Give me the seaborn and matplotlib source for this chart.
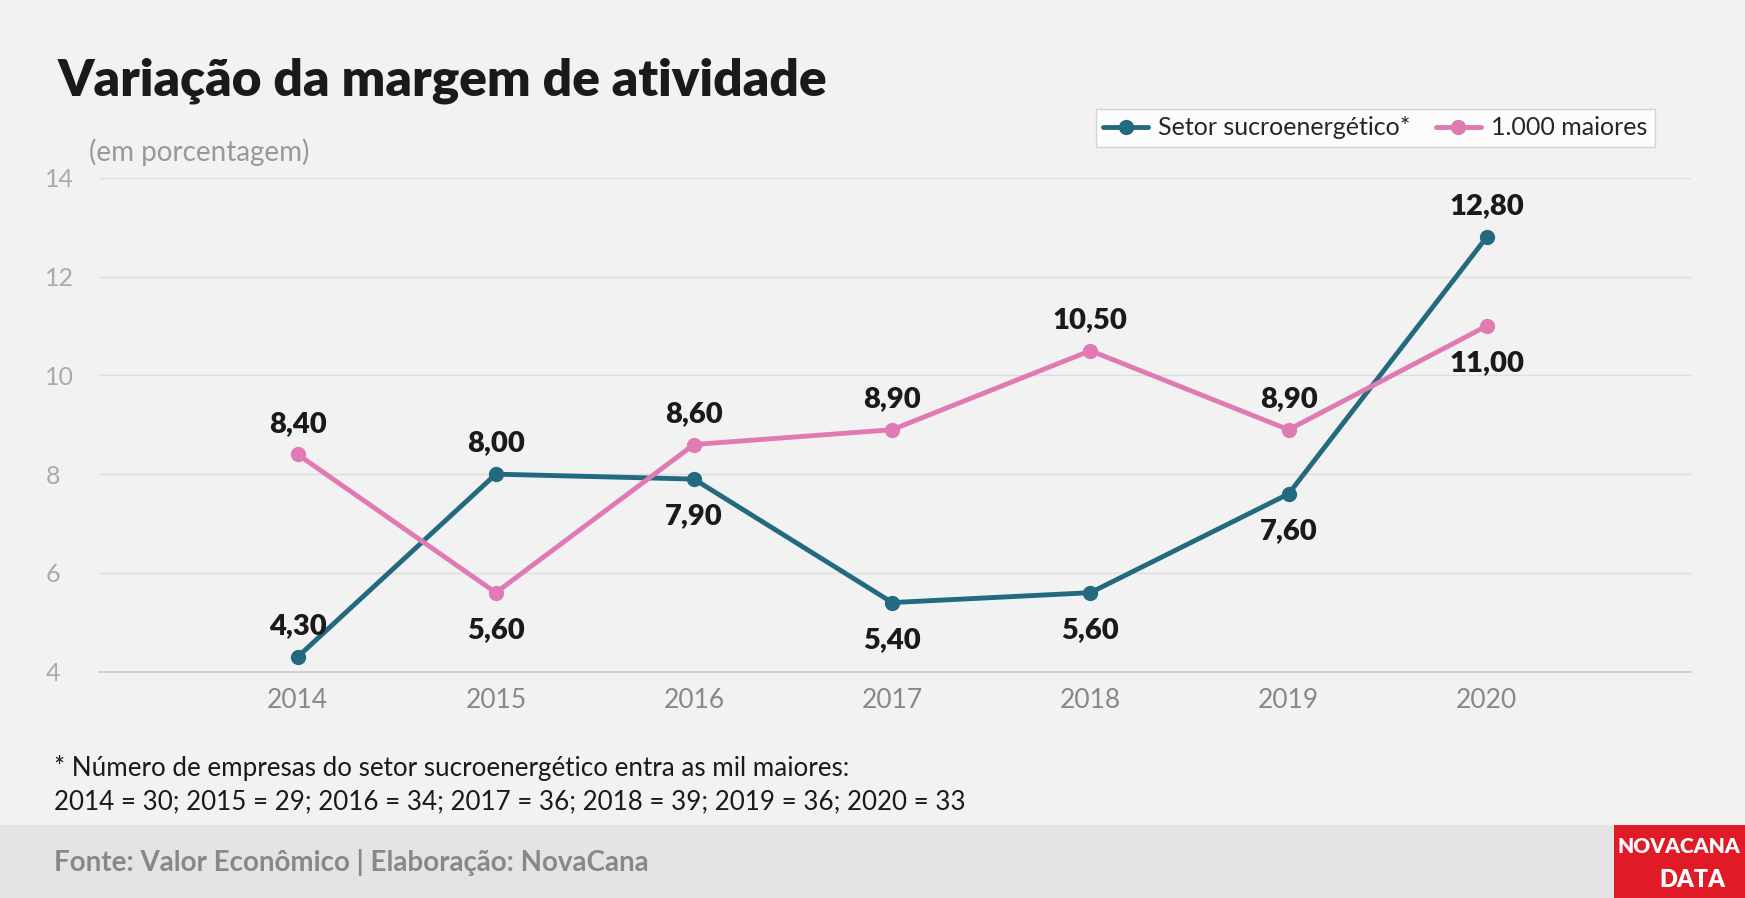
import matplotlib
matplotlib.use("Agg")
import matplotlib.pyplot as plt
import seaborn as sns
import pandas as pd
from matplotlib.patches import Rectangle

years = [2014, 2015, 2016, 2017, 2018, 2019, 2020]
setor = [4.3, 8.0, 7.9, 5.4, 5.6, 7.6, 12.8]
maiores = [8.4, 5.6, 8.6, 8.9, 10.5, 8.9, 11.0]
series_names = ["Setor sucroenergético*", "1.000 maiores"]
colors = ["#236a80", "#e07ab3"]
# label offset direction: +1 above, -1 below
setor_pos = [1, 1, -1, -1, -1, -1, 1]
maiores_pos = [1, -1, 1, 1, 1, 1, -1]

sns.set_theme(style="white")
plt.rcParams['font.family'] = ['Lato', 'DejaVu Sans']

df = pd.DataFrame({"ano": years * 2, "valor": setor + maiores,
                   "serie": [series_names[0]] * 7 + [series_names[1]] * 7})

fig = plt.figure(figsize=(17.45, 8.98), dpi=100, facecolor="#f2f2f2")
ax = fig.add_axes([0.057, 0.252, 0.912, 0.55])
ax.set_facecolor("#f2f2f2")
sns.lineplot(data=df, x="ano", y="valor", hue="serie", palette=colors,
             marker="o", markersize=11, markeredgewidth=0, linewidth=3.5, ax=ax)
ax.set_xlim(2013.0, 2021.03)
ax.set_ylim(4, 14)
ax.set_yticks([4, 6, 8, 10, 12, 14])
ax.set_xticks(years)
ax.grid(axis="y", color="#dddddd", linewidth=1)
for s in ["top", "right", "left"]:
    ax.spines[s].set_visible(False)
ax.spines["bottom"].set_color("#cccccc")
ax.tick_params(axis="x", labelsize=19, colors="#888888", pad=12, length=0)
ax.tick_params(axis="y", labelsize=18, colors="#aaaaaa", length=0, pad=0)
for lbl in ax.get_yticklabels():
    lbl.set_horizontalalignment("left")
    lbl.set_x(-0.034)
ax.set_xlabel("")
ax.set_ylabel("")

for vals, pos in [(setor, setor_pos), (maiores, maiores_pos)]:
    for x, v, p in zip(years, vals, pos):
        off = 22 if p > 0 else -27
        ax.annotate(f"{v:.2f}".replace(".", ","), (x, v), xytext=(0, off),
                    textcoords="offset points", ha="center", va="center",
                    fontsize=21, fontweight="heavy", color="#1a1a1a")

leg = ax.legend(loc="upper right", bbox_to_anchor=(0.985, 1.165), ncol=2,
                fontsize=18, frameon=True, fancybox=False, edgecolor="#cccccc",
                facecolor="white", handlelength=1.8, handletextpad=0.4,
                columnspacing=1.0, borderpad=0.3)
leg.get_frame().set_linewidth(1)

fig.text(0.033, 0.91, "Variação da margem de atividade", fontsize=37,
         fontweight="heavy", color="#1a1a1a", va="center")
fig.text(0.051, 0.83, "(em porcentagem)", fontsize=20, color="#999999", va="center")
fig.text(0.031, 0.145, "* Número de empresas do setor sucroenergético entra as mil maiores:",
         fontsize=18.7, color="#1a1a1a", va="center")
fig.text(0.031, 0.107, "2014 = 30; 2015 = 29; 2016 = 34; 2017 = 36; 2018 = 39; 2019 = 36; 2020 = 33",
         fontsize=18.7, color="#1a1a1a", va="center")

fig.patches.append(Rectangle((0, 0), 1, 0.081, transform=fig.transFigure,
                             facecolor="#e4e4e4", edgecolor="none", zorder=0))
fig.text(0.031, 0.04, "Fonte: Valor Econômico | Elaboração: NovaCana", fontsize=20,
         fontweight="bold", color="#888888", va="center")
fig.patches.append(Rectangle((0.925, 0.0), 0.075, 0.081, transform=fig.transFigure,
                             facecolor="#e01a27", edgecolor="none", zorder=1))
fig.text(0.962, 0.057, "NOVACANA", fontsize=15, fontweight="heavy", color="white",
         ha="center", va="center", zorder=2)
fig.text(0.97, 0.02, "DATA", fontsize=17, fontweight="heavy", color="white",
         ha="center", va="center", zorder=2)

fig.savefig("out.png", dpi=100, facecolor=fig.get_facecolor())
